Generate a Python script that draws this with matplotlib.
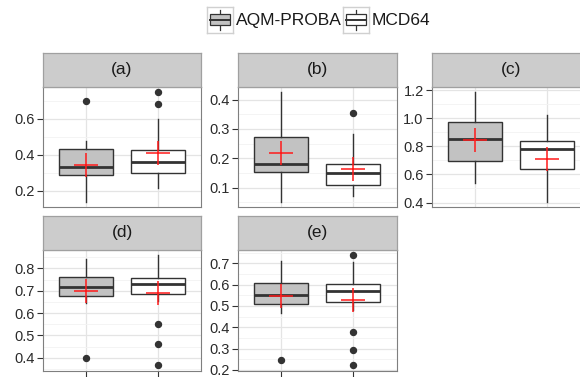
import matplotlib
matplotlib.use("Agg")
import matplotlib.pyplot as plt
from matplotlib.ticker import MultipleLocator, FormatStrFormatter
from matplotlib.patches import Rectangle

plt.rcParams['font.family'] = ['Liberation Sans', 'DejaVu Sans']

# ---------------- data ----------------
categories = ['AQM-PROBA', 'MCD64']
panels = ['(a)', '(b)', '(c)', '(d)', '(e)']

aqm_q1 = [0.286, 0.152, 0.694, 0.677, 0.508]
aqm_med = [0.331, 0.181, 0.854, 0.719, 0.552]
aqm_q3 = [0.433, 0.273, 0.975, 0.760, 0.606]
aqm_lo = [0.140, 0.052, 0.538, 0.645, 0.469]
aqm_hi = [0.475, 0.425, 1.186, 0.842, 0.712]
aqm_mean = [0.345, 0.217, 0.843, 0.700, 0.546]
aqm_out = [[0.697], [], [], [0.400], [0.248]]

mcd_q1 = [0.297, 0.110, 0.637, 0.686, 0.519]
mcd_med = [0.361, 0.151, 0.781, 0.731, 0.570]
mcd_q3 = [0.428, 0.179, 0.840, 0.756, 0.602]
mcd_lo = [0.219, 0.072, 0.405, 0.655, 0.480]
mcd_hi = [0.600, 0.282, 1.027, 0.860, 0.708]
mcd_mean = [0.409, 0.164, 0.708, 0.688, 0.529]
mcd_out = [[0.683, 0.747], [0.355], [], [0.553, 0.460, 0.367],
           [0.739, 0.380, 0.295, 0.222]]

ytick_step = [0.2, 0.1, 0.2, 0.1, 0.1]
ytick_fmt = ['%.1f', '%.1f', '%.1f', '%.1f', '%.1f']

fills = ['#C2C2C2', '#FFFFFF']

# ---------------- layout (pixels) ----------------
W, H = 580, 377
fig = plt.figure(figsize=(W / 100, H / 100), dpi=100)

col_left = [42.7, 238.0, 432.0]
pw = 158.7
rows = [(52.7, 86.7, 207.3), (216.0, 249.5, 370.7)]  # strip top, panel top, panel bottom


def fax(x0, y0, x1, y1):
    return [x0 / W, 1 - y1 / H, (x1 - x0) / W, (y1 - y0) / H]


dark = '#333333'
for i, name in enumerate(panels):
    r, c = divmod(i, 3)
    st, pt, pb = rows[r]
    x0 = col_left[c]
    ax = fig.add_axes(fax(x0, pt, x0 + pw, pb))
    sax = fig.add_axes(fax(x0, st, x0 + pw, pt))
    sax.set_facecolor('#CCCCCC')
    sax.set_xticks([]); sax.set_yticks([])
    for s in sax.spines.values():
        s.set_color('#A0A0A0'); s.set_linewidth(0.9)
    sax.text(0.5, 0.5, name, ha='center', va='center', fontsize=12.5,
             color='#1a1a1a', transform=sax.transAxes)

    stats = [
        dict(med=aqm_med[i], q1=aqm_q1[i], q3=aqm_q3[i], whislo=aqm_lo[i],
             whishi=aqm_hi[i], fliers=aqm_out[i]),
        dict(med=mcd_med[i], q1=mcd_q1[i], q3=mcd_q3[i], whislo=mcd_lo[i],
             whishi=mcd_hi[i], fliers=mcd_out[i]),
    ]
    bp = ax.bxp(stats, positions=[1, 2], widths=0.75, patch_artist=True,
                showcaps=False,
                boxprops=dict(edgecolor=dark, linewidth=1.0),
                medianprops=dict(color=dark, linewidth=2.0),
                whiskerprops=dict(color=dark, linewidth=1.0),
                flierprops=dict(marker='o', markersize=4.3,
                                markerfacecolor=dark, markeredgecolor=dark))
    for patch, fc in zip(bp['boxes'], fills):
        patch.set_facecolor(fc)
    for art in bp['boxes'] + bp['medians'] + bp['whiskers'] + bp['fliers']:
        art.set_zorder(3)

    ax.plot([1, 2], [aqm_mean[i], mcd_mean[i]], ls='none', marker='+',
            markersize=17, markeredgewidth=1.1, color='#FF1A1A', zorder=5)

    ax.set_xlim(0.4, 2.6)
    ax.margins(y=0.05)
    ax.autoscale_view()
    ax.yaxis.set_major_locator(MultipleLocator(ytick_step[i]))
    ax.yaxis.set_minor_locator(MultipleLocator(ytick_step[i] / 2))
    ax.yaxis.set_major_formatter(FormatStrFormatter(ytick_fmt[i]))
    ax.set_xticks([1, 2])
    ax.set_xticklabels(['', ''])
    ax.set_axisbelow(True)
    ax.grid(which='major', color='#E4E4E4', linewidth=0.9)
    ax.grid(which='minor', axis='y', color='#F3F3F3', linewidth=0.6)
    ax.tick_params(axis='y', which='major', length=4, width=0.8, color=dark,
                   labelsize=10.5, labelcolor='#2b2b2b', pad=2)
    ax.tick_params(axis='y', which='minor', length=0)
    if r == 1:
        ax.tick_params(axis='x', length=4, width=0.8, color=dark)
    else:
        ax.tick_params(axis='x', length=0)
    for s in ax.spines.values():
        s.set_color('#7F7F7F'); s.set_linewidth(0.8)

# ---------------- legend ----------------
legend_keys = [(207, 7, 'AQM-PROBA', fills[0]), (343, 7, 'MCD64', fills[1])]
for kx, ky, label, fc in legend_keys:
    kax = fig.add_axes(fax(kx, ky, kx + 26, ky + 26))
    kax.set_xlim(0, 1); kax.set_ylim(0, 1)
    kax.set_xticks([]); kax.set_yticks([])
    for s in kax.spines.values():
        s.set_color('#D0D0D0'); s.set_linewidth(1.0)
    kax.plot([0.5, 0.5], [0.1, 0.9], color=dark, lw=0.9)
    kax.add_patch(Rectangle((0.12, 0.3), 0.76, 0.42, facecolor=fc,
                            edgecolor=dark, lw=0.9, zorder=3))
    kax.plot([0.12, 0.88], [0.51, 0.51], color=dark, lw=1.4, zorder=4)
    fig.text((kx + 29) / W, 1 - (ky + 13.5) / H, label, ha='left',
             va='center', fontsize=12.5, color='#1a1a1a')

fig.savefig('out.png', dpi=100)
